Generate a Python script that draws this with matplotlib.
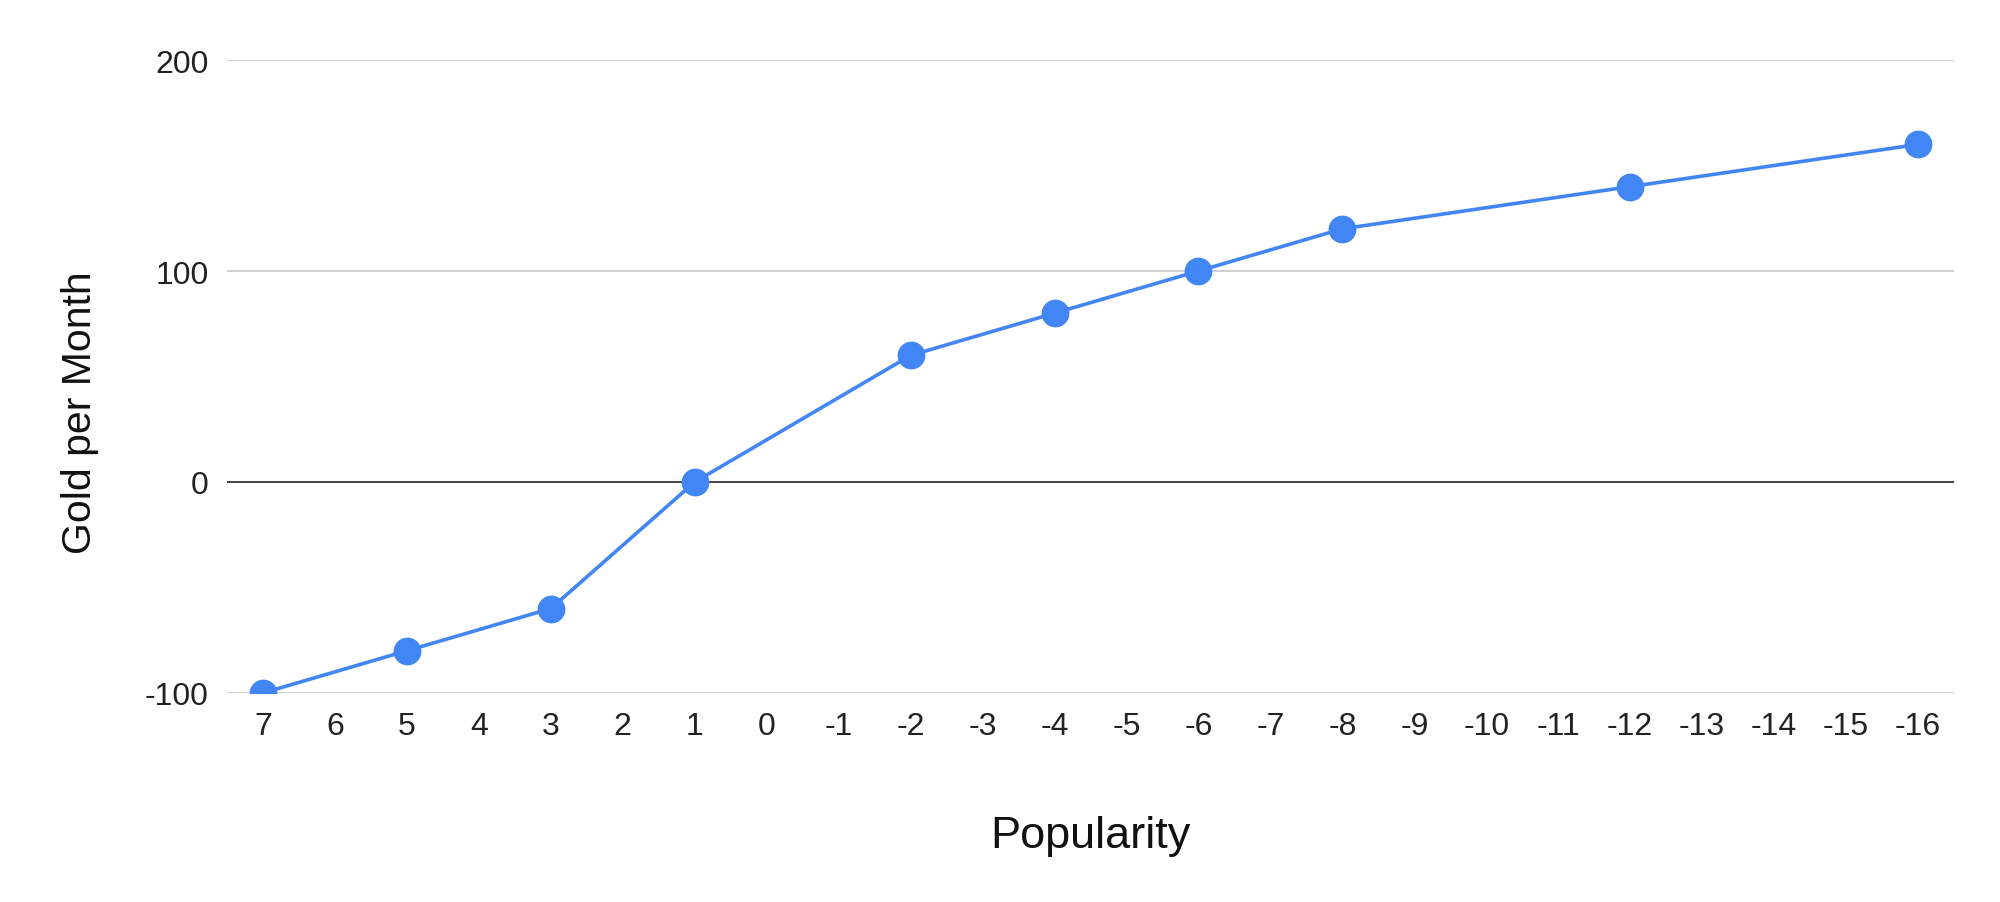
import matplotlib
matplotlib.use('Agg')
import matplotlib.pyplot as plt

plt.rcParams['font.family'] = ['Liberation Sans', 'DejaVu Sans']
plt.rcParams['axes.unicode_minus'] = False

# Category axis: popularity runs from 7 down to -16
popularity = [str(v) for v in range(7, -17, -1)]

# Measured points (popularity -> gold per month)
point_popularity = ['7', '5', '3', '1', '-2', '-4', '-6', '-8', '-12', '-16']
gold_per_month = [-100, -80, -60, 0, 60, 80, 100, 120, 140, 160]

y_ticks = [-100, 0, 100, 200]

BLUE = '#4285F4'

fig = plt.figure(figsize=(20, 9.03), dpi=100)
ax = fig.add_axes([0.1135, 0.2315, 0.977 - 0.1135, 0.9324 - 0.2315])

xpos = [popularity.index(p) for p in point_popularity]
ax.plot(xpos, gold_per_month, color=BLUE, linewidth=2.6,
        marker='o', markersize=19, markerfacecolor=BLUE,
        markeredgecolor=BLUE, zorder=3)

ax.set_xlim(-0.5, len(popularity) - 0.5)
ax.set_ylim(-100, 200)

ax.set_xticks(range(len(popularity)))
ax.set_xticklabels(popularity)
ax.set_yticks(y_ticks)

for y in y_ticks:
    if y == 0:
        ax.axhline(y, color='#333333', linewidth=1.3, zorder=2)
    else:
        ax.axhline(y, color='#cccccc', linewidth=1.3, zorder=1)

for s in ax.spines.values():
    s.set_visible(False)
ax.tick_params(axis='both', length=0, labelsize=23, colors='#222222')
ax.tick_params(axis='x', pad=13)
ax.tick_params(axis='y', pad=13)

ax.set_xlabel('Popularity', fontsize=32.5, color='#111111')
ax.set_ylabel('Gold per Month', fontsize=29.5, color='#111111')
ax.xaxis.set_label_coords(0.5, -0.193)
ax.yaxis.set_label_coords(-0.074, 0.445)

fig.savefig('out.png', dpi=100)
